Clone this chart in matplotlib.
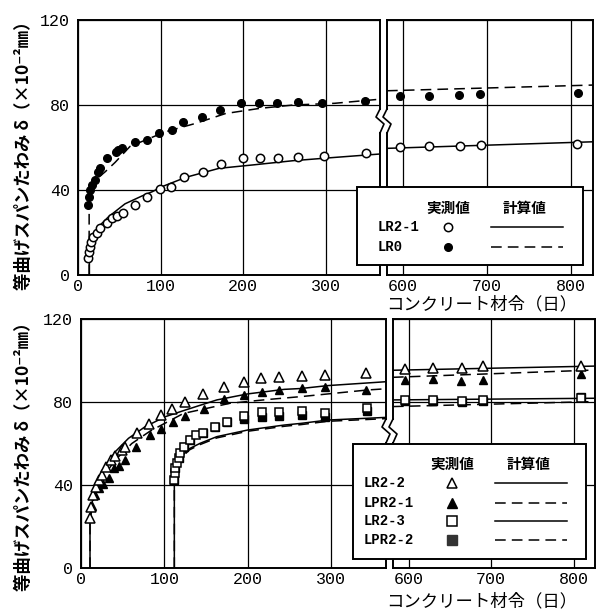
import numpy as np
import matplotlib
matplotlib.use('Agg')
import matplotlib.pyplot as plt
from matplotlib.patches import Rectangle

plt.rcParams['font.family'] = ['Noto Sans CJK JP', 'DejaVu Sans']

W, H = 596, 610

####### data, upper panel (LR2-1, LR0)

lr21_t = [12.6, 13.4, 14.6, 15.9, 18.7, 22.8, 26.8, 35, 41, 47, 55, 69.5, 84, 98.8, 113, 128.5,
          151, 173, 200, 220, 242, 267, 298, 349, 597, 631, 668, 693, 807]
lr21_d = [7.8, 11, 13.3, 15.7, 18, 19.6, 22, 24.6, 26.7, 27.8, 29.3, 33, 36.8, 40.3, 41.6, 46.3,
          48.3, 52.2, 55.2, 55.2, 55.2, 55.4, 56, 57.3, 60.4, 60.7, 60.9, 61, 61.5]

lr0_t = [11.8, 13.4, 14.6, 16.7, 20, 24, 26.8, 35, 46, 49, 53, 69.5, 84, 98, 114, 127,
         150, 172, 197, 219, 241, 267, 296, 348, 596, 631, 667, 692, 808]
lr0_d = [33, 36.9, 40, 42.4, 44.7, 48.6, 50.2, 54.9, 58, 58.8, 59.6, 62.7, 63.5, 67, 68.2, 72,
         74.2, 77.6, 80.8, 81.1, 81.1, 81.4, 81.1, 82, 84, 84, 84.7, 85, 85.5]

lr21_calc_t = [13.8, 13.8, 15, 16.7, 18.7, 24.8, 37, 57, 77.6, 90, 102, 131, 171, 212, 261, 310, 368,
               581, 827]
lr21_calc_d = [0, 8, 13, 16.5, 18.5, 22.7, 27.4, 33.5, 37.2, 39.2, 41.6, 46, 50.2, 51.8, 53.8, 55.3, 57,
               59.6, 62.7]

lr0_calc_t = [13.5, 13.5, 16.7, 22, 33, 45, 63, 106, 143, 179, 220, 261, 311, 368, 581, 827]
lr0_calc_d = [0, 38, 41.6, 45, 48.6, 53, 60.5, 67.4, 71.4, 76, 78.4, 80, 80.8, 82.8, 86.7, 89.4]

####### data, lower panel (LR2-2, LPR2-1, LR2-3, LPR2-2)

lr22_t = [10.8, 12, 14.8, 18, 21, 25, 30, 36, 41, 49, 53, 67, 82, 96, 109, 124.5, 146.5, 171,
          195, 216, 238, 265, 293, 342, 595, 630, 665, 690.5, 809]
lr22_d = [24, 29.5, 35.2, 39, 42.4, 44.8, 48.5, 52, 54, 56.9, 58.5, 64.9, 69.2, 73.7, 76.5, 80.1,
          83.7, 87, 89.4, 91.4, 92.2, 92.5, 93, 93.8, 95.9, 96.5, 96.2, 97.3, 97.3]

lpr21_t = [13.5, 16.9, 21, 26, 33, 40, 45, 53, 66, 83, 96, 110, 125, 148, 171, 195, 217, 238,
           265, 293, 342, 595, 630, 663.5, 690, 809]
lpr21_d = [30, 35.2, 38.4, 40.5, 43.2, 48, 49, 52, 58.5, 64.1, 66.8, 70.6, 73.4, 76.5, 81.3,
           83.4, 85, 85.8, 86.6, 87, 85.8, 90.6, 91.1, 90.1, 90.6, 93.3]

lr23_t = [112, 112.5, 113, 115, 117, 119, 123, 131, 138.5, 146.5, 161, 174.7, 195, 217, 238,
          265, 293, 343, 596, 630, 665, 690.5, 809]
lr23_d = [42.4, 45.6, 48, 50.5, 53, 55.5, 58.5, 61.7, 64.1, 65.2, 68.1, 70.6, 73.3, 75.3, 75.3,
          75.8, 74.8, 77, 81, 81, 80.5, 81.2, 81.8]

lpr22_t = [112, 113, 117, 123, 131, 146.5, 161, 174.7, 195, 217, 238, 265, 293, 343,
           596, 630, 665, 690.5, 809]
lpr22_d = [42.4, 48, 53, 58.5, 61.7, 65.2, 68.1, 70.6, 72, 73, 73.2, 73.5, 73, 75.5,
           80.5, 80.5, 80, 80.7, 82.5]

lr22_calc_t = [10.8, 10.8, 12, 15, 20, 25, 41, 57, 77, 101, 125, 163, 200, 244, 264, 296, 367,
               581, 825]
lr22_calc_d = [0, 22, 28, 36, 42, 46.4, 56, 62.5, 68.1, 72.9, 76.1, 81, 83.9, 86.1, 86.5, 87.9, 89.8,
               95.3, 97.3]

lpr21_calc_t = [10.8, 10.8, 12, 15, 20, 25, 41, 61, 83, 123, 179, 224, 264, 344, 367, 581, 825]
lpr21_calc_d = [0, 21, 26, 33, 39, 43, 52, 60, 66, 74.5, 79.4, 81.2, 82.6, 85.8, 86.4, 91.9, 95.4]

lr23_calc_t = [112, 112, 113, 115, 120, 130, 143, 163, 200, 244, 264, 296, 367, 581, 825]
lr23_calc_d = [0, 40, 45, 49.5, 53.5, 57.5, 60.1, 63.3, 66.5, 68.9, 69.7, 71.3, 72.6, 81, 81.8]

lpr22_calc_t = [112, 112, 113, 115, 120, 130, 143, 163, 200, 244, 264, 296, 367, 581, 825]
lpr22_calc_d = [0, 39.5, 44.4, 48.9, 52.9, 56.9, 59.5, 62.7, 65.9, 68.3, 69.1, 70.7, 72, 77.8, 80.2]

x_ticks_l = [0, 100, 200, 300]
x_ticks_r = [600, 700, 800]
y_ticks = [0, 40, 80, 120]

ylabel = '等曲げスパンたわみ δ（×10⁻²㎜）'
xlabel = 'コンクリート材令（日）'

####### figure

fig = plt.figure(figsize=(W / 100, H / 100), dpi=100)


def box(l, t, r, b):
    return [l / W, 1 - b / H, (r - l) / W, (b - t) / H]


def panneau(top, bottom, l, m1, m2, r):
    axl = fig.add_axes(box(l, top, m1, bottom))
    axr = fig.add_axes(box(m2, top, r, bottom))
    axl.set_xlim(0, 366)
    axr.set_xlim(581, 826)
    axl.set_xticks(x_ticks_l)
    axr.set_xticks(x_ticks_r)
    for ax in (axl, axr):
        ax.set_ylim(0, 120)
        ax.set_yticks(y_ticks)
        ax.grid(True, color='black', lw=0.9)
        ax.set_axisbelow(True)
        ax.tick_params(length=0, labelsize=12, pad=3)
        ax.tick_params(axis='y', pad=6)
        for s in ax.spines.values():
            s.set_linewidth(1.4)
        for lab in ax.get_xticklabels() + ax.get_yticklabels():
            lab.set_fontfamily('Liberation Mono')
    axr.tick_params(labelleft=False)
    return axl, axr


def trace(axs, t, d, **kw):
    t = np.array(t)
    d = np.array(d)
    m = t < 500
    axs[0].plot(t[m], d[m], **kw)
    axs[1].plot(t[~m], d[~m], **kw)


solide = dict(color='black', lw=1.1)
tirets = dict(color='black', lw=1.1, dashes=(7, 4))
o_vide = dict(ls='none', marker='o', ms=6, mfc='white', mec='black', mew=1.1, zorder=4)
o_plein = dict(ls='none', marker='o', ms=5.5, color='black', zorder=4)

haut = panneau(20, 275, 78, 380, 387, 593)
trace(haut, lr21_calc_t, lr21_calc_d, **solide)
trace(haut, lr0_calc_t, lr0_calc_d, **tirets)
trace(haut, lr21_t, lr21_d, **o_vide)
trace(haut, lr0_t, lr0_d, **o_plein)

bas = panneau(319, 568, 81, 386, 393, 595)
trace(bas, lr22_calc_t, lr22_calc_d, **solide)
trace(bas, lpr21_calc_t, lpr21_calc_d, **tirets)
trace(bas, lr23_calc_t, lr23_calc_d, **solide)
trace(bas, lpr22_calc_t, lpr22_calc_d, **tirets)
trace(bas, lpr22_t, lpr22_d, ls='none', marker='s', ms=5.5, color='black', zorder=3)
trace(bas, lr23_t, lr23_d, ls='none', marker='s', ms=6, mfc='white', mec='black', mew=1.1, zorder=4)
trace(bas, lpr21_t, lpr21_d, ls='none', marker='^', ms=6, color='black', zorder=4)
trace(bas, lr22_t, lr22_d, ls='none', marker='^', ms=6.5, mfc='white', mec='black', mew=1.1, zorder=4)

####### overlay in pixel coordinates: labels, break marks, legends

ov = fig.add_axes([0, 0, 1, 1], zorder=10)
ov.set_xlim(0, W)
ov.set_ylim(H, 0)
ov.axis('off')
ov.patch.set_alpha(0)

ov.text(24, 151, ylabel, rotation=90, ha='center', va='center', fontsize=12.5, fontweight='bold')
ov.text(24, 452, ylabel, rotation=90, ha='center', va='center', fontsize=12.5, fontweight='bold')
ov.text(482, 304, xlabel, ha='center', va='center', fontsize=12.5)
ov.text(482, 601, xlabel, ha='center', va='center', fontsize=12.5)


def coupure(xa, xb, y0):
    ov.add_patch(Rectangle((xa - 6, y0), xb - xa + 12, 22, fc='white', ec='none'))
    for x in (xa, xb):
        ov.plot([x, x - 4, x + 4, x], [y0 - 1, y0 + 7, y0 + 14, y0 + 23], color='black', lw=1.2)


coupure(380, 387, 110)
coupure(386, 393, 420)


def legende(l, t, r, b, hx1, hx2, hy, lx, lines):
    ov.add_patch(Rectangle((l, t), r - l, b - t, fc='white', ec='black', lw=1.4))
    ov.text(hx1, hy, '実測値', ha='center', va='center', fontsize=10.5, fontweight='bold')
    ov.text(hx2, hy, '計算値', ha='center', va='center', fontsize=10.5, fontweight='bold')
    for y, nom, mk, st in lines:
        ov.text(lx, y, nom, ha='left', va='center', fontsize=10, family='Liberation Mono',
                fontweight='bold')
        ov.plot([hx1], [y], **mk)
        ov.plot([hx2 - 34, hx2 + 38], [y, y], **st)


legende(357, 187, 583, 265, 448, 525, 208, 378,
        [(227, 'LR2-1', o_vide, solide),
         (247, 'LR0', o_plein, tirets)])

legende(353, 444, 586, 559, 452, 529, 464, 364,
        [(483, 'LR2-2', dict(ls='none', marker='^', ms=7, mfc='white', mec='black', mew=1.1), solide),
         (503, 'LPR2-1', dict(ls='none', marker='^', ms=7, color='black'), tirets),
         (521, 'LR2-3', dict(ls='none', marker='s', ms=6.5, mfc='white', mec='black', mew=1.1), solide),
         (540, 'LPR2-2', dict(ls='none', marker='s', ms=6.5, color='#333333'), tirets)])

fig.savefig('out.png', dpi=100)
